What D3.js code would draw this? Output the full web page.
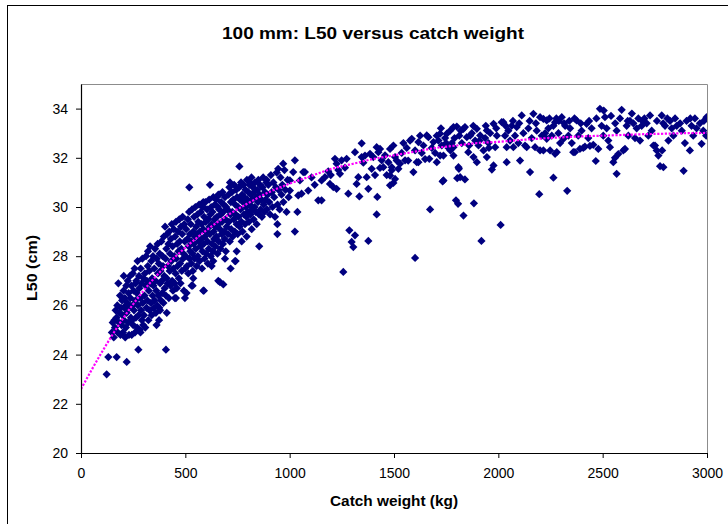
<!DOCTYPE html>
<html>
<head>
<meta charset="utf-8">
<script src="https://cdn.jsdelivr.net/npm/d3@7"></script>
<style>
  body { margin: 0; background: #fff; }
  svg { display: block; }
  text { font-family: "Liberation Sans", Arial, sans-serif; fill: #000; }
</style>
</head>
<body>
<svg id="chart" width="728" height="524"></svg>
<script>
// Labels and ticks
const titleText = "100 mm: L50 versus catch weight";
const xTitle = "Catch weight (kg)";
const yTitle = "L50 (cm)";
const xTicks = [0, 500, 1000, 1500, 2000, 2500, 3000];
const yTicks = [20, 22, 24, 26, 28, 30, 32, 34];

// Observed hauls: [catch weight (kg), L50 (cm)], grouped by weight range
const catchUnder300 = [
  [123,23.2],[131,23.9],[171,23.9],[219,23.7],[275,24.2],
  [148,24.9],[152,25.3],[157,24.7],[160,25.4],[163,25.1],[166,25.8],[170,25.5],[174,26.0],[176,24.9],[179,26.9],
  [182,25.3],[184,25.7],[187,26.4],[189,24.8],[192,25.9],[194,25.2],[197,26.2],[199,25.6],[201,24.9],[204,26.6],
  [206,25.4],[208,25.9],[210,26.3],[212,24.7],[215,25.1],[217,26.8],[219,25.7],[222,26.1],[224,27.0],[226,25.3],
  [228,26.5],[230,24.8],[232,25.9],[235,27.2],[237,26.3],[239,25.5],[241,26.8],[243,24.8],[246,26.0],[248,27.3],
  [250,25.2],[252,26.6],[254,25.8],[257,27.5],[259,24.9],[261,26.2],[263,25.5],[265,27.0],[267,26.5],[269,25.1],
  [271,27.8],[273,26.0],[276,25.6],[278,27.2],[280,26.7],[282,25.0],[284,26.3],[286,27.5],[288,25.8],[290,26.9],
  [292,25.4],[294,27.9],[296,26.1],[298,25.2],[300,27.1],[205,27.2],[215,26.0],[245,25.4],[262,26.9],[285,24.9]
];
const catch300to500 = [
  [362,25.2],[374,25.4],[379,25.8],[411,25.7],[407,24.2],[450,26.3],[455,26.3],[498,26.3],
  [302,25.6],[304,26.4],[306,27.3],[308,25.1],[310,26.8],[312,28.0],[314,25.9],[316,27.0],[318,26.2],[320,27.6],
  [321,28.2],[323,25.4],[325,26.6],[327,27.4],[329,25.8],[331,28.4],[333,26.9],[335,26.1],[337,27.8],[339,25.6],
  [341,27.1],[343,26.4],[345,28.0],[347,26.8],[349,25.9],[351,27.5],[353,26.2],[355,28.3],[357,27.0],[359,25.7],
  [361,26.6],[363,27.9],[365,26.0],[367,28.5],[369,27.3],[371,26.4],[373,27.7],[375,25.9],[377,28.1],[379,26.9],
  [381,27.4],[383,26.2],[385,28.6],[387,27.0],[389,26.5],[391,28.0],[393,27.6],[395,26.1],[397,28.8],[399,27.2],
  [401,26.7],[403,29.2],[405,27.9],[407,26.4],[409,28.3],[411,27.1],[413,28.9],[415,26.9],[417,27.6],[419,28.5],
  [421,26.3],[423,29.0],[425,27.4],[427,28.1],[429,26.8],[431,28.7],[433,27.8],[435,29.3],[437,27.0],[439,28.4],
  [441,26.6],[443,27.5],[445,29.1],[447,28.0],[449,26.9],[451,28.8],[453,27.3],[455,29.4],[457,27.9],[459,26.7],
  [461,28.5],[463,27.6],[465,29.0],[467,28.2],[469,27.1],[471,29.5],[473,28.6],[475,27.7],[477,26.9],[479,29.2],
  [481,28.3],[483,27.4],[485,28.9],[487,29.6],[489,27.9],[491,28.1],[493,26.6],[495,29.3],[497,28.6],[499,27.5]
];
const catch500to700 = [
  [506,26.5],[530,26.8],[535,26.8],[538,27.1],[586,26.6],[589,26.6],[626,27.6],[634,27.8],[658,27.0],[666,26.95],
  [682,26.85],[690,27.9],[519,30.8],[618,30.9],[658,30.5],[586,30.2],
  [502,28.0],[504,29.1],[508,27.6],[510,28.7],[512,29.5],[514,27.3],[516,28.4],[518,29.8],[520,27.9],[522,28.9],
  [524,28.2],[526,29.3],[528,27.7],[530,28.6],[532,29.9],[534,28.1],[536,27.4],[538,29.0],[540,28.5],[542,29.6],
  [544,27.9],[546,28.8],[548,30.0],[550,28.3],[552,29.2],[554,27.6],[556,28.9],[558,29.7],[560,28.0],[562,29.4],
  [564,28.6],[566,30.1],[568,27.8],[570,29.0],[572,28.4],[574,29.8],[576,28.7],[578,29.3],[580,27.5],[582,28.2],
  [584,30.0],[586,29.1],[588,28.5],[590,29.6],[592,27.9],[594,28.8],[596,30.2],[598,29.4],[600,28.1],[602,29.0],
  [604,29.9],[606,28.6],[608,27.7],[610,29.5],[612,28.3],[614,30.3],[616,29.2],[618,28.9],[620,29.7],[622,28.0],
  [624,30.0],[626,29.3],[628,28.5],[630,29.8],[632,28.2],[634,30.4],[636,29.0],[638,28.7],[640,29.5],[642,30.1],
  [644,28.4],[646,29.2],[648,30.3],[650,28.8],[652,29.6],[654,28.1],[656,30.0],[658,29.3],[660,28.6],[662,29.9],
  [664,30.5],[666,29.1],[668,28.3],[670,29.7],[672,30.2],[674,28.9],[676,29.4],[678,30.6],[680,28.5],[682,29.8],
  [684,30.1],[686,29.0],[688,28.7],[690,30.4],[692,29.5],[694,28.2],[696,30.0],[698,29.2]
];
const catch700to1000 = [
  [717,27.5],[741,27.8],[738,27.8],[854,28.4],[941,28.9],[941,29.3],[1025,29.0],[1037,29.8],[794,28.8],[818,29.1],
  [746,28.2],[770,28.6],[759,31.65],[945,31.55],[1025,31.9],[969,31.76],[714,31.0],[770,30.9],[810,31.0],[890,31.1],
  [702,29.9],[704,28.9],[707,30.5],[709,29.4],[711,30.8],[713,28.6],[716,29.7],[718,30.2],[720,29.1],[723,30.6],
  [725,29.8],[727,28.8],[730,30.3],[732,29.5],[734,30.9],[737,29.0],[739,30.1],[741,29.7],[744,30.7],[746,29.3],
  [748,30.4],[751,28.9],[753,30.0],[755,29.6],[758,30.8],[760,29.2],[762,30.3],[765,29.9],[767,31.0],[769,29.4],
  [772,30.5],[774,29.0],[776,30.2],[779,30.9],[781,29.7],[783,30.4],[786,29.3],[788,30.7],[790,30.0],[793,29.6],
  [795,31.1],[797,30.3],[800,29.8],[802,30.6],[805,29.4],[807,30.9],[809,30.1],[812,29.7],[814,30.5],[817,31.2],
  [819,29.9],[822,30.3],[824,30.8],[827,29.5],[829,30.6],[832,30.0],[834,31.0],[837,29.8],[840,30.4],[842,29.3],
  [845,30.7],[848,30.2],[850,31.1],[853,29.7],[856,30.5],[858,30.9],[861,29.9],[864,30.3],[867,29.6],[870,30.8],
  [873,31.2],[876,30.1],[879,29.8],[882,30.6],[885,30.3],[888,31.0],[891,29.9],[895,30.5],[898,30.9],[902,30.2],
  [906,29.7],[910,31.3],[914,30.6],[918,30.0],[922,31.0],[926,30.4],[930,29.6],[934,30.8],[938,31.4],[942,30.1],
  [947,30.7],[952,29.9],[956,31.2],[961,30.5],[965,30.9],[970,30.2],[975,31.5],[980,30.7],[985,29.8],[990,31.1],
  [995,30.4],[1001,31.08],[1001,30.67],[1017,31.42]
];
const catch1000to1500 = [
  [1041,30.47],[1049,31.08],[1057,30.54],[1065,31.42],[1073,31.42],[1089,30.67],[1105,31.2],[1120,30.9],[1137,30.27],
  [1153,30.27],[1153,31.08],[1169,31.21],[1185,31.45],[1193,30.94],[1197,31.3],[1209,30.81],[1217,31.96],[1225,31.76],
  [1225,30.74],[1233,31.5],[1241,31.35],[1249,31.9],[1257,27.36],[1265,31.6],[1273,31.96],[1281,30.54],[1286,29.05],
  [1297,28.58],[1305,28.37],[1313,28.85],[1313,32.23],[1321,30.94],[1329,31.21],[1334,30.43],[1345,32.59],[1345,32.03],
  [1353,31.8],[1361,32.09],[1369,31.21],[1377,30.74],[1377,28.62],[1385,32.16],[1393,31.55],[1401,32.03],[1409,31.3],
  [1417,32.43],[1417,29.7],[1420,30.41],[1425,32.23],[1433,31.59],[1433,32.36],[1441,31.9],[1449,31.62],[1457,32.1],
  [1465,31.3],[1473,31.82],[1481,32.36],[1481,31.28],[1481,30.88],[1489,31.62],[1489,31.49],[1497,30.98],[1497,32.5],
  [1505,32.03],[1505,31.14],[1513,31.89]
];
const catch1500to2000 = [
  [1521,31.55],[1529,31.76],[1537,32.2],[1545,32.6],[1553,31.9],[1561,32.4],[1568,31.89],[1577,32.7],[1585,32.77],
  [1593,31.42],[1601,27.93],[1601,32.3],[1609,31.82],[1617,32.64],[1617,31.82],[1625,32.9],[1633,32.2],[1641,32.5],
  [1649,31.95],[1657,32.91],[1665,32.84],[1669,31.96],[1673,29.9],[1681,32.4],[1689,32.64],[1697,32.2],[1705,31.82],
  [1705,32.9],[1713,32.7],[1721,32.98],[1721,32.09],[1725,33.2],[1729,32.5],[1733,31.04],[1737,32.09],[1737,31.08],
  [1745,32.8],[1750,32.6],[1753,32.98],[1761,32.4],[1769,33.1],[1770,32.3],[1777,32.6],[1785,33.25],[1785,32.09],
  [1785,32.43],[1790,32.8],[1797,30.27],[1807,30.13],[1801,33.27],[1803,31.17],[1809,31.62],[1811,31.55],[1813,32.9],
  [1817,31.21],[1820,33.1],[1825,32.6],[1833,29.65],[1833,33.18],[1840,31.12],[1840,33.25],[1849,32.84],[1856,32.23],
  [1860,32.5],[1865,32.9],[1873,33.0],[1880,33.3],[1883,30.15],[1881,32.03],[1889,32.7],[1897,31.82],[1897,33.18],
  [1905,32.5],[1910,32.7],[1913,32.91],[1919,28.62],[1929,32.3],[1937,32.8],[1940,33.3],[1945,33.11],[1945,32.03],
  [1953,32.6],[1955,32.4],[1961,33.0],[1969,31.52],[1977,33.38],[1977,31.69],[1985,32.43],[1990,33.2],[1993,32.9]
];
const catch2000to2500 = [
  [2011,29.27],[2016,33.45],[2024,33.45],[2032,32.9],[2040,31.82],[2040,32.43],[2048,33.1],[2056,32.7],[2064,33.3],
  [2072,32.43],[2080,32.9],[2088,33.25],[2096,32.6],[2104,31.89],[2112,33.72],[2120,33.0],[2128,32.5],[2136,32.43],
  [2144,33.2],[2152,31.42],[2160,32.8],[2168,33.79],[2176,32.43],[2184,33.1],[2196,30.52],[2200,33.65],[2200,32.3],
  [2208,32.9],[2216,33.58],[2216,32.3],[2224,33.0],[2232,33.52],[2232,32.77],[2240,33.2],[2248,32.3],[2256,32.9],
  [2264,31.19],[2264,33.3],[2272,33.45],[2272,32.16],[2280,32.23],[2288,33.0],[2296,32.6],[2304,33.65],[2312,32.77],
  [2320,33.3],[2330,30.66],[2336,32.9],[2344,33.2],[2352,32.6],[2359,32.23],[2367,32.23],[2375,33.52],[2383,32.9],
  [2391,32.36],[2399,33.1],[2407,32.4],[2415,32.45],[2423,33.38],[2431,32.8],[2439,32.48],[2447,33.2],[2455,32.53],
  [2467,31.87],[2479,32.36],[2487,33.99],[2495,33.3],
  [2035,33.3],[2070,33.5],[2100,33.4],[2150,33.5],[2180,33.4],[2245,33.6],[2278,33.6],[2290,33.5],
  [2315,33.4],[2340,33.5],[2365,33.6],[2395,33.4],[2435,33.5],[2470,33.6]
];
const catch2500to3000 = [
  [2503,32.9],[2505,33.92],[2511,33.65],[2519,33.2],[2527,32.7],[2535,32.43],[2540,33.7],[2551,31.82],
  [2559,32.0],[2567,31.35],[2567,33.1],[2575,32.15],[2583,33.6],[2591,33.95],[2599,32.3],[2607,32.36],
  [2615,33.3],[2623,32.9],[2631,33.5],[2640,33.8],[2647,33.4],[2655,32.8],
  [2663,33.2],[2671,33.6],[2679,32.7],[2687,33.3],[2700,33.6],[2711,33.4],[2719,32.9],
  [2727,33.72],[2735,33.1],[2743,32.5],[2751,32.5],[2759,32.3],[2760,33.5],[2767,32.09],[2775,31.66],
  [2783,33.72],[2785,32.3],[2791,31.62],[2799,33.3],[2810,33.6],[2815,32.7],
  [2823,33.5],[2831,33.2],[2839,32.9],[2847,33.6],[2855,33.3],[2871,33.4],[2879,33.1],
  [2888,31.47],[2894,32.6],[2902,33.5],[2918,32.3],[2926,33.3],[2934,32.9],
  [2942,33.6],[2950,33.2],[2966,33.4],[2974,32.57],[2982,33.1],[2998,33.65],
  [2996,32.9],[2560,33.4],[2620,33.5],[2690,33.5],[2790,33.4],[2920,33.6],[2985,33.5]
];

// Fitted trend line sampled every 100 kg
const trendWeight = [0,100,200,300,400,500,600,700,800,900,1000,1100,1200,1300,1400,1500,
                     1600,1700,1800,1900,2000,2100,2200,2300,2400,2500,2600,2700,2800,2900,3000];
const trendL50 = [22.6,24.1,25.45,26.6,27.55,28.35,29.05,29.65,30.15,30.6,30.95,31.25,31.55,31.75,31.95,32.1,
                  32.25,32.4,32.5,32.6,32.65,32.72,32.78,32.83,32.87,32.9,32.93,32.96,32.98,33.0,33.01];

const hauls = [].concat(catchUnder300, catch300to500, catch500to700, catch700to1000,
                        catch1000to1500, catch1500to2000, catch2000to2500, catch2500to3000);
const trend = trendWeight.map((w, i) => [w, trendL50[i]]);

const svg = d3.select("#chart");
const plot = { left: 81, right: 707, top: 84, bottom: 453 };

const x = d3.scaleLinear().domain([0, 3000]).range([plot.left, plot.right]);
const y = d3.scaleLinear().domain([20, 35]).range([plot.bottom, plot.top]);

// Chart frame
svg.append("rect")
  .attr("x", 7.5).attr("y", 5.5).attr("width", 760).attr("height", 560)
  .attr("fill", "#fff").attr("stroke", "#000").attr("stroke-width", 1);

// Plot area border (top and right)
svg.append("path")
  .attr("d", `M${plot.left},${plot.top + 0.5}H${plot.right + 0.5}V${plot.bottom}`)
  .attr("fill", "none").attr("stroke", "#8c8c8c").attr("stroke-width", 1);

svg.append("defs").append("clipPath").attr("id", "plotClip")
  .append("rect")
  .attr("x", plot.left).attr("y", plot.top)
  .attr("width", plot.right - plot.left).attr("height", plot.bottom - plot.top);

// Diamond marker
const diamond = {
  draw(ctx, size) {
    const r = Math.sqrt(size / 2);
    ctx.moveTo(0, -r); ctx.lineTo(r, 0); ctx.lineTo(0, r); ctx.lineTo(-r, 0); ctx.closePath();
  }
};
const marker = d3.symbol().type(diamond).size(34)();

const g = svg.append("g").attr("clip-path", "url(#plotClip)");

g.append("g").selectAll("path")
  .data(hauls)
  .join("path")
  .attr("d", marker)
  .attr("transform", d => `translate(${x(d[0])},${y(d[1])})`)
  .attr("fill", "#000080");

g.append("path")
  .datum(trend)
  .attr("d", d3.line().x(d => x(d[0])).y(d => y(d[1])).curve(d3.curveMonotoneX))
  .attr("fill", "none")
  .attr("stroke", "#ff00ff")
  .attr("stroke-width", 2.2)
  .attr("stroke-dasharray", "2.2,1.6");

// Axes
const xAxis = svg.append("g")
  .attr("transform", `translate(0,${plot.bottom})`)
  .call(d3.axisBottom(x).tickValues(xTicks).tickFormat(d3.format("d"))
    .tickSize(5).tickSizeOuter(0).tickPadding(10));
const yAxis = svg.append("g")
  .attr("transform", `translate(${plot.left},0)`)
  .call(d3.axisLeft(y).tickValues(yTicks).tickFormat(d3.format("d"))
    .tickSize(5).tickSizeOuter(0).tickPadding(8));

[xAxis, yAxis].forEach(a => {
  a.select(".domain").attr("stroke", "#000").attr("stroke-width", 1.2);
  a.selectAll(".tick line").attr("stroke", "#000");
  a.selectAll(".tick text")
    .attr("font-family", "'Liberation Sans', Arial, sans-serif")
    .attr("font-size", 14).attr("fill", "#000");
});

// Titles
svg.append("text")
  .attr("x", 373).attr("y", 39)
  .attr("text-anchor", "middle")
  .attr("font-size", 17).attr("font-weight", "bold")
  .attr("textLength", 302).attr("lengthAdjust", "spacingAndGlyphs")
  .text(titleText);

svg.append("text")
  .attr("x", 394).attr("y", 506)
  .attr("text-anchor", "middle")
  .attr("font-size", 14).attr("font-weight", "bold")
  .attr("textLength", 128).attr("lengthAdjust", "spacingAndGlyphs")
  .text(xTitle);

svg.append("text")
  .attr("transform", "translate(37,268) rotate(-90)")
  .attr("text-anchor", "middle")
  .attr("font-size", 14).attr("font-weight", "bold")
  .attr("textLength", 66).attr("lengthAdjust", "spacingAndGlyphs")
  .text(yTitle);
</script>
</body>
</html>
